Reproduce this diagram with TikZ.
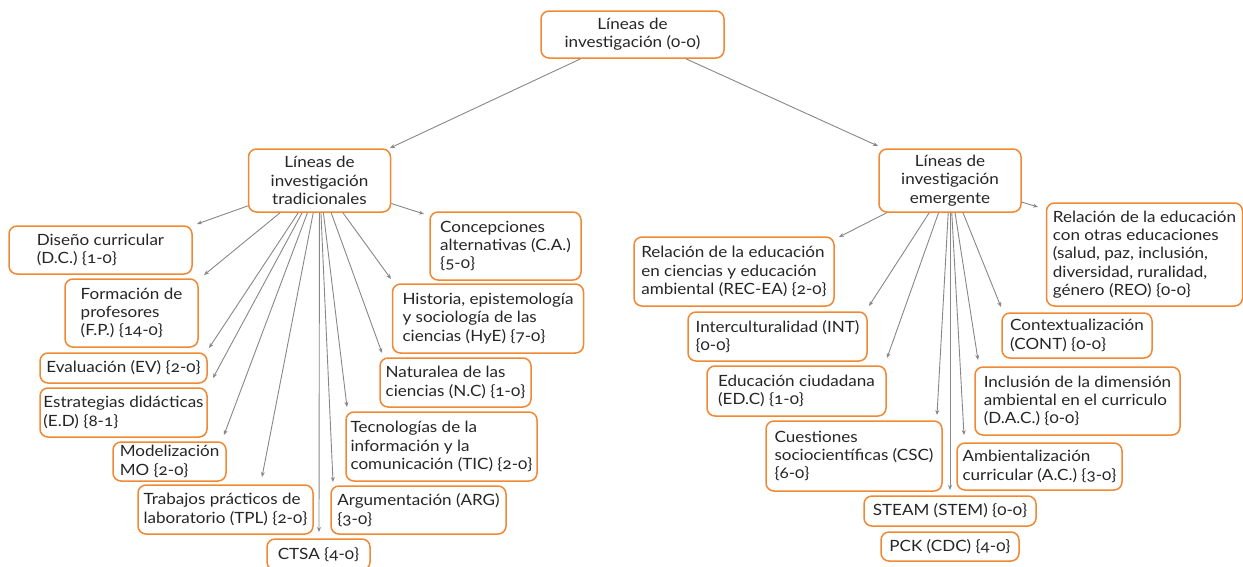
\documentclass[tikz,border=0pt]{standalone}
\usepackage{fontspec}
\setmainfont{Lato}[Numbers=OldStyle, FakeStretch=1.1]
\usetikzlibrary{arrows.meta}
\definecolor{boxorange}{RGB}{240,136,52}
\definecolor{linkgray}{RGB}{135,135,135}
\definecolor{txt}{RGB}{38,38,38}
\begin{document}
\begin{tikzpicture}[x=1pt,y=-1pt,
  bx/.style 2 args={draw=boxorange, line width=1.5pt, rounded corners=8pt,
    fill=white, align=left, inner sep=0pt, text=txt,
    font=\fontsize{15.5}{18.3}\selectfont,
    minimum width=#1pt, minimum height=#2pt},
  bc/.style 2 args={bx={#1}{#2}, align=center},
  arr/.style={draw=linkgray, line width=0.9pt, -{Stealth[length=5pt,width=4pt]}}]
\useasboundingbox (0,0) rectangle (1243,566);

% top level
\node[bc={183}{47}] (root) at (632.5,34.5) {Líneas de\\investigación (0-0)};
\node[bc={142}{63}] (trad) at (319.5,180.5) {Líneas de\\investigación\\tradicionales};
\node[bc={142}{63}] (emer) at (950,180.5) {Líneas de\\investigación\\emergente};

% traditional lines
\node[bx={183}{48}] (dc)   at (100.5,250)   {Diseño curricular\\(D.C.) \{1-0\}};
\node[bx={133}{68}] (fp)   at (131.5,313)   {Formación de\\profesores\\(F.P.) \{14-0\}};
\node[bx={167}{30}] (ev)   at (123.5,368)   {Evaluación (EV) \{2-0\}};
\node[bx={167}{49}] (ed)   at (123.5,412.5) {Estrategias didácticas\\(E.D) \{8-1\}};
\node[bx={113}{39}] (mo)   at (169.5,461.5) {Modelización\\MO \{2-0\}};
\node[bx={175}{49}] (tpl)  at (225.5,509.5) {Trabajos prácticos de\\laboratorio (TPL) \{2-0\}};
\node[bx={103}{31}] (ctsa) at (318.5,554.5) {CTSA \{4-0\}};
\node[bx={175}{48}] (arg)  at (418.5,510)   {Argumentación (ARG)\\\{3-0\}};
\node[bx={191}{69}] (tic)  at (441.5,446.5) {Tecnologías de la\\información y la\\comunicación (TIC) \{2-0\}};
\node[bx={151}{49}] (nc)   at (455.5,382.5) {Naturalea de las\\ciencias (N.C) \{1-0\}};
\node[bx={191}{69}] (hye)  at (488,318.5)   {Historia, epistemología\\y sociología de las\\ciencias (HyE) \{7-0\}};
\node[bx={151}{68}] (ca)   at (505.5,246)   {Concepciones\\alternativas (C.A.)\\\{5-0\}};

% emerging lines
\node[bx={200}{69}] (recea) at (734,271.5)  {Relación de la educación\\en ciencias y educación\\ambiental (REC-EA) \{2-0\}};
\node[bx={179}{49}] (int)   at (777.5,336.5){Interculturalidad (INT)\\\{0-0\}};
\node[bx={179}{50}] (edc)   at (796.5,391)  {Educación ciudadana\\(ED.C) \{1-0\}};
\node[bx={176}{70}] (csc)   at (854,456)    {Cuestiones\\sociocientíficas (CSC)\\\{6-0\}};
\node[bx={172}{30}] (stem)  at (950,511)    {STEAM (STEM) \{0-0\}};
\node[bx={138}{29}] (pck)   at (950,546.5)  {PCK (CDC) \{4-0\}};
\node[bx={165}{47}] (ac)    at (1039.5,466.5){Ambientalización\\curricular (A.C.) \{3-0\}};
\node[bx={205}{68}] (dac)   at (1077.5,401) {Inclusión de la dimensión\\ambiental en el curriculo\\(D.A.C.) \{0-0\}};
\node[bx={150}{45}] (cont)  at (1077,335.5) {Contextualización\\(CONT) \{0-0\}};
\node[bx={196}{103}] (reo)  at (1144.5,254.5){Relación de la educación\\con otras educaciones\\(salud, paz, inclusión,\\diversidad, ruralidad,\\género (REO) \{0-0\}};

% arrow ends, just short of each box
\coordinate (e-trad) at (390,148);
\coordinate (e-emer) at (878,146);
\coordinate (e-dc)   at (197,224);
\coordinate (e-fp)   at (204,275);
\coordinate (e-ev)   at (209,348);
\coordinate (e-ed)   at (213,378);
\coordinate (e-mo)   at (224,435);
\coordinate (e-tpl)  at (262,477);
\coordinate (e-ctsa) at (319,532);
\coordinate (e-arg)  at (333,482);
\coordinate (e-tic)  at (347,407);
\coordinate (e-nc)   at (382,353);
\coordinate (e-hye)  at (391,279);
\coordinate (e-ca)   at (424,214);
\coordinate (e-recea) at (839,237);
\coordinate (e-int)   at (869,306);
\coordinate (e-edc)   at (887,358);
\coordinate (e-csc)   at (937,415);
\coordinate (e-stem)  at (950,490);
\coordinate (e-ac)    at (964,435);
\coordinate (e-dac)   at (978,360);
\coordinate (e-cont)  at (1001,307);
\coordinate (e-reo)   at (1038,207);

% connectors
\draw[arr] (root) -- (e-trad);
\draw[arr] (root) -- (e-emer);
\foreach \c in {dc,fp,ev,ed,mo,tpl,ctsa,arg,tic,nc,hye,ca}
  \draw[arr] (trad) -- (e-\c);
\foreach \c in {recea,int,edc,csc,stem,ac,dac,cont,reo}
  \draw[arr] (emer) -- (e-\c);
\end{tikzpicture}
\end{document}
